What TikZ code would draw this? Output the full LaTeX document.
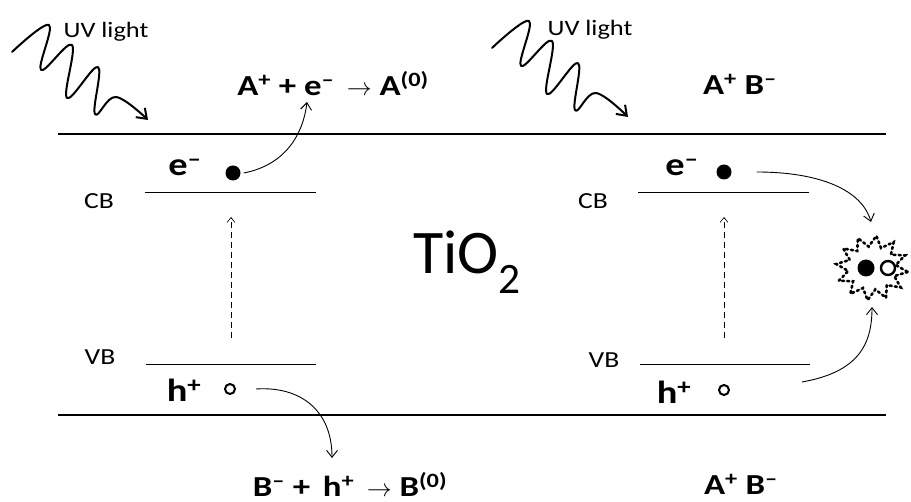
\documentclass[tikz,border=0pt]{standalone}
\usepackage{fontspec}
\setmainfont{Carlito}
\newfontfamily\wideface[FakeStretch=1.2]{Carlito}
\usetikzlibrary{arrows.meta}
\begin{document}
\begin{tikzpicture}[x=1pt,y=-1pt,
  thickline/.style={line width=2.4pt},
  levelline/.style={line width=0.8pt},
  lbl/.style={font=\wideface\fontsize{23}{26}\selectfont, inner sep=0pt},
  carrier/.style={font=\wideface\fontsize{32}{36}\selectfont\bfseries, inner sep=0pt},
  rxn/.style={font=\wideface\fontsize{29}{33}\selectfont\bfseries, inner sep=0pt},
  uvtxt/.style={font=\wideface\fontsize{22}{26}\selectfont, inner sep=0pt},
  curvearr/.style={-{Straight Barb[length=7pt,width=11pt]}, line width=0.9pt},
  excite/.style={dash pattern=on 6pt off 4pt, -{Straight Barb[length=5pt,width=8pt]}, line width=0.6pt},
  uvwave/.style={-{Straight Barb[length=9pt,width=13pt]}, line width=2pt, line cap=round, line join=round},
  elec/.style={circle, fill=black, minimum size=15pt, inner sep=0pt},
  hole/.style={circle, draw=black, line width=2pt, minimum size=10pt, inner sep=0pt},
]
\useasboundingbox (0,0) rectangle (911,502);

% surfaces
\coordinate (tl) at (58,134); \coordinate (tr) at (886,134);
\coordinate (bl) at (58,415); \coordinate (br) at (886,415);
\draw[thickline] (tl) -- (tr);
\draw[thickline] (bl) -- (br);

% left band levels
\coordinate (cbLa) at (145,192); \coordinate (cbLb) at (316,192);
\coordinate (vbLa) at (146,364); \coordinate (vbLb) at (316,364);
\draw[levelline] (cbLa) -- (cbLb);
\draw[levelline] (vbLa) -- (vbLb);
% right band levels
\coordinate (cbRa) at (638,192); \coordinate (cbRb) at (809,192);
\coordinate (vbRa) at (640,364); \coordinate (vbRb) at (810,364);
\draw[levelline] (cbRa) -- (cbRb);
\draw[levelline] (vbRa) -- (vbRb);

% labels
\node[lbl] (cbL) at (99,201) {CB};
\node[lbl] (vbL) at (100,357) {VB};
\node[lbl] (cbR) at (593,201) {CB};
\node[lbl] (vbR) at (604,360) {VB};

% carriers
\node[carrier] (eL) at (185,167) {e\textsuperscript{–}};
\node[elec] (eLd) at (233,173) {};
\node[carrier] (hL) at (184,390) {h\textsuperscript{+}};
\node[hole] (hLd) at (230,389) {};
\node[carrier] (eR) at (682,167) {e\textsuperscript{–}};
\node[elec] (eRd) at (724,172) {};
\node[carrier] (hR) at (674,392) {h\textsuperscript{+}};
\node[hole] (hRd) at (724,390) {};

% excitation (dashed)
\coordinate (exL0) at (231,338); \coordinate (exL1) at (231,217);
\coordinate (exR0) at (724,338); \coordinate (exR1) at (724,217);
\draw[excite] (exL0) -- (exL1);
\draw[excite] (exR0) -- (exR1);

% TiO2
\node[inner sep=0pt, font=\fontsize{62}{70}\selectfont] (tio) at (467,262) {TiO\textsubscript{2}};

% reactions
\node[rxn] (rxA) at (333,84) {A\textsuperscript{+} + e\textsuperscript{–}\, $\rightarrow$ A\textsuperscript{(0)}};
\node[rxn] (abT) at (740,84) {A\textsuperscript{+} B\textsuperscript{–}};
\node[rxn] (rxB) at (350,484) {B\textsuperscript{–} +\, h\textsuperscript{+}\, $\rightarrow$ B\textsuperscript{(0)}};
\node[rxn] (abB) at (741,484) {A\textsuperscript{+} B\textsuperscript{–}};

% transfer arrows
\coordinate (eTarget) at (307,102);
\draw[curvearr] (eLd.east) ++(3,0) coordinate (eLs) .. controls (285,165) and (303,135) .. (eTarget);
\coordinate (hTarget) at (332,458);
\draw[curvearr] (hLd.east) ++(20,0) coordinate (hLs) .. controls (300,386) and (332,410) .. (hTarget);

% recombination
\coordinate (recA) at (871,222);
\coordinate (recB) at (872,307);
\draw[curvearr] (eRd.east) ++(25,0) coordinate (eRs) .. controls (820,172) and (862,190) .. (recA);
\draw[curvearr] (hRd.east) ++(72,-8) coordinate (hRs) .. controls (858,372) and (872,345) .. (recB);

% splotch
\foreach \i in {0,...,23}{
  \pgfmathsetmacro{\ang}{\i*15+7}
  \pgfmathsetmacro{\rad}{mod(\i,2)==0 ? 36 : 24}
  \coordinate (sp\i) at ({872+\rad*cos(\ang)}, {268+0.9*\rad*sin(\ang)});
}
\draw[line width=2.6pt, dash pattern=on 2pt off 3.2pt, line cap=round]
  (sp0) -- (sp1) -- (sp2) -- (sp3) -- (sp4) -- (sp5) -- (sp6) -- (sp7) -- (sp8) -- (sp9) -- (sp10) -- (sp11) -- (sp12) -- (sp13) -- (sp14) -- (sp15) -- (sp16) -- (sp17) -- (sp18) -- (sp19) -- (sp20) -- (sp21) -- (sp22) -- (sp23) -- cycle;
\node[elec, minimum size=17pt] (pe) at (866,268) {};
\node[hole, minimum size=14pt, line width=2.4pt] (ph) at (888,268) {};

% UV light waves
\node[uvtxt] (uvL) at (106,32) {UV light};
\node[uvtxt] (uvR) at (590,30) {UV light};
\draw[uvwave] plot[smooth, tension=0.65] coordinates {(12,52) (49,25) (41,70) (72,45) (67,98) (98,67) (95,114) (116,97) (148,120)};
\draw[uvwave] plot[smooth, tension=0.65] coordinates {(492,48) (529,21) (521,66) (552,41) (547,94) (578,63) (575,110) (596,93) (628,117)};
\end{tikzpicture}
\end{document}
